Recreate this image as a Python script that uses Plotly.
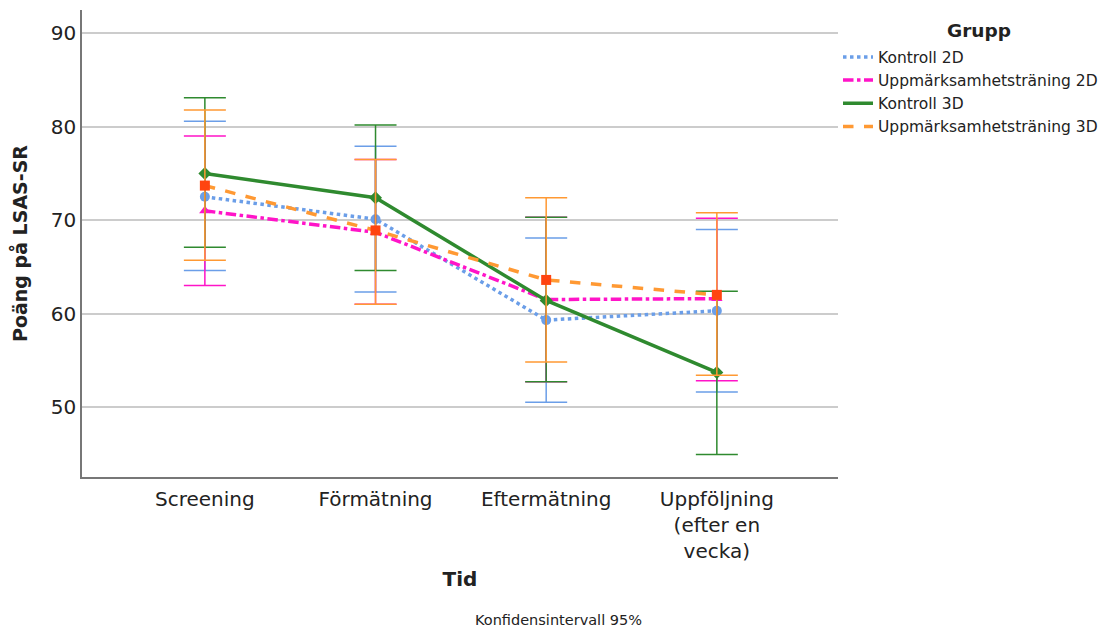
import plotly.graph_objects as go

categories = ["Screening", "Förmätning", "Eftermätning", "Uppföljning<br>(efter en<br>vecka)"]
groups = ["Kontroll 2D", "Uppmärksamhetsträning 2D", "Kontroll 3D", "Uppmärksamhetsträning 3D"]

means_k2d = [72.5, 70.1, 59.3, 60.3]
lo_k2d = [64.6, 62.3, 50.5, 51.6]
hi_k2d = [80.6, 77.9, 68.1, 69.0]

means_u2d = [71.0, 68.7, 61.5, 61.6]
lo_u2d = [63.0, 61.0, 52.7, 52.8]
hi_u2d = [79.0, 76.5, 70.3, 70.2]

means_k3d = [75.0, 72.4, 61.4, 53.7]
lo_k3d = [67.1, 64.6, 52.7, 44.9]
hi_k3d = [83.1, 80.2, 70.3, 62.4]

means_u3d = [73.7, 68.9, 63.6, 62.0]
lo_u3d = [65.7, 61.0, 54.8, 53.4]
hi_u3d = [81.8, 76.5, 72.4, 70.8]

series = [
    (groups[0], means_k2d, lo_k2d, hi_k2d, "#6b9ee8", "#6b9ee8", "dot", "circle"),
    (groups[1], means_u2d, lo_u2d, hi_u2d, "#ff14c8", "#ff14c8", "dashdot", "triangle-up"),
    (groups[2], means_k3d, lo_k3d, hi_k3d, "#2f8a2f", "#2f8a2f", "solid", "diamond"),
    (groups[3], means_u3d, lo_u3d, hi_u3d, "#ff9933", "#ff4410", "dash", "square"),
]

fig = go.Figure()
xs = list(range(len(categories)))
for name, m, lo, hi, col, mcol, dash, sym in series:
    fig.add_trace(go.Scatter(
        x=xs, y=m, mode="lines+markers", name=name, showlegend=False,
        line=dict(color=col, width=3.5, dash=dash),
        marker=dict(color=mcol, size=10, symbol=sym),
        error_y=dict(type="data", symmetric=False,
                     array=[h - v for h, v in zip(hi, m)],
                     arrayminus=[v - l for v, l in zip(m, lo)],
                     color=col, thickness=1.5, width=21),
    ))
for name, m, lo, hi, col, mcol, dash, sym in series:
    fig.add_trace(go.Scatter(
        x=[None], y=[None], mode="lines", name=name, showlegend=True,
        line=dict(color=col, width=3.5, dash=dash),
    ))

fig.update_layout(
    width=1110, height=622,
    margin=dict(l=74, r=280, t=2, b=153),
    plot_bgcolor="white", paper_bgcolor="white",
    font=dict(family="DejaVu Sans", size=16, color="#222"),
    xaxis=dict(
        tickmode="array", tickvals=xs, ticktext=categories,
        range=[-0.72, 3.71], showgrid=False, zeroline=False,
        showline=True, linecolor="#777", linewidth=1.5,
        ticks="", ticklabelstandoff=3, tickfont=dict(size=20),
        title=dict(text="<b>Tid</b>", font=dict(size=20), standoff=10),
    ),
    yaxis=dict(
        range=[42.5, 92.5], tickvals=[50, 60, 70, 80, 90],
        showgrid=True, gridcolor="#cccccc", gridwidth=1.5, zeroline=False,
        showline=True, linecolor="#777", linewidth=1.5,
        ticks="", tickfont=dict(size=20),
        title=dict(text="<b>Poäng på LSAS-SR</b>", font=dict(size=19), standoff=20),
    ),
    legend=dict(
        x=1.0, xanchor="left", y=0.935, yanchor="top",
        font=dict(size=15.5), itemwidth=30, tracegroupgap=0,
        bgcolor="rgba(0,0,0,0)",
    ),
    annotations=[
        dict(text="<b>Grupp</b>", xref="paper", yref="paper",
             x=1.186, y=0.957, xanchor="center", yanchor="middle",
             showarrow=False, font=dict(size=18.5)),
        dict(text="Konfidensintervall 95%", xref="paper", yref="paper",
             x=0.63, y=-0.306, xanchor="center", yanchor="middle",
             showarrow=False, font=dict(size=14.5)),
    ],
)

fig.write_html("out.html")
